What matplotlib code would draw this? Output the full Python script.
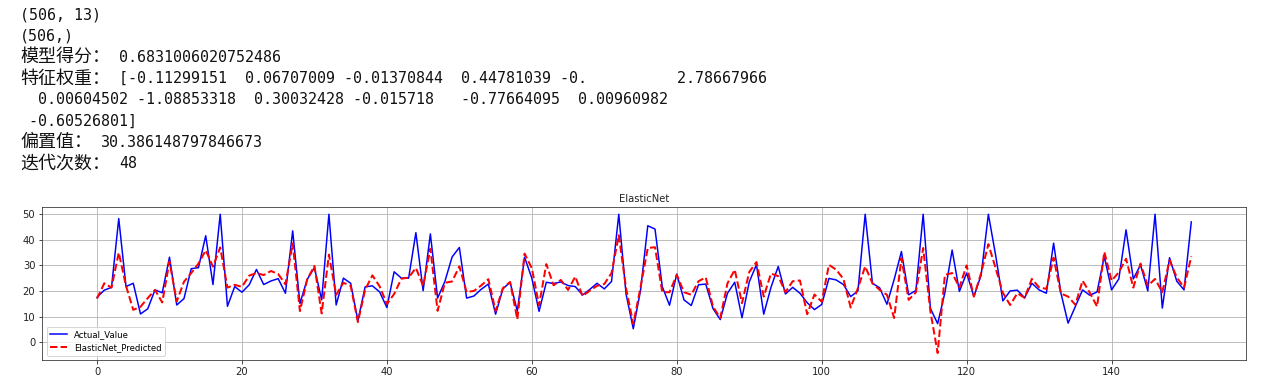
import matplotlib
matplotlib.use("Agg")
import matplotlib.pyplot as plt
import numpy as np

# ---------------- data ----------------
actual = [17.5, 20.3, 21.4, 48.3, 21.7, 23.0, 11.0, 13.0, 20.4, 19.3,
          33.2, 14.5, 17.0, 28.7, 29.1, 41.6, 22.5, 50.0, 14.0, 21.7,
          19.5, 22.4, 28.4, 22.5, 23.9, 24.8, 19.1, 43.5, 15.1, 24.5,
          29.1, 16.5, 50.0, 14.5, 25.0, 23.0, 8.4, 21.6, 22.0, 19.6,
          13.5, 27.5, 25.0, 25.0, 42.8, 20.1, 42.3, 17.2, 23.7, 33.3,
          37.0, 17.2, 18.0, 20.6, 22.7, 10.9, 20.8, 23.4, 12.1, 33.2,
          25.0, 12.0, 23.4, 22.9, 23.5, 22.1, 21.7, 18.4, 20.6, 23.0,
          20.8, 23.7, 50.0, 18.8, 5.2, 20.2, 45.5, 44.2, 21.7, 14.4,
          26.6, 16.5, 14.3, 22.4, 22.7, 13.1, 8.8, 19.1, 23.4, 9.5,
          23.5, 30.3, 10.9, 21.4, 29.6, 18.8, 21.4, 19.1, 15.4, 12.7,
          14.7, 24.9, 24.3, 22.5, 17.8, 20.0, 50.0, 23.0, 21.2, 14.8,
          24.5, 35.4, 18.5, 20.2, 50.0, 13.2, 7.2, 19.3, 36.0, 19.8,
          27.0, 17.8, 26.2, 50.0, 34.0, 16.1, 20.0, 20.3, 17.3, 23.0,
          20.4, 19.1, 38.7, 19.3, 7.4, 13.9, 20.4, 18.3, 19.6, 33.5,
          20.4, 24.7, 43.9, 24.7, 30.2, 20.0, 50.0, 13.3, 33.0, 23.8,
          20.4, 47.0]

predicted = [17.0, 23.0, 21.3, 35.0, 22.0, 12.6, 13.8, 17.2, 20.4, 15.5,
             31.5, 15.9, 23.6, 27.0, 30.7, 35.9, 29.5, 37.0, 21.3, 22.4,
             21.6, 26.0, 27.0, 26.2, 27.8, 26.6, 22.6, 38.6, 12.1, 24.5,
             29.8, 11.2, 34.2, 18.5, 23.2, 22.0, 7.8, 20.5, 26.1, 21.8,
             14.9, 18.8, 24.8, 25.2, 29.0, 22.0, 36.5, 12.2, 23.2, 23.7,
             29.6, 19.6, 20.0, 22.1, 24.6, 12.2, 21.1, 23.5, 8.9, 34.6,
             28.9, 14.4, 30.5, 22.2, 24.3, 20.4, 25.6, 18.0, 20.1, 22.0,
             22.7, 27.0, 41.8, 21.1, 7.1, 21.4, 36.8, 37.1, 19.5, 19.5,
             26.3, 19.5, 18.5, 23.8, 25.3, 13.9, 9.4, 23.0, 28.3, 15.2,
             27.4, 31.3, 17.8, 26.8, 25.8, 19.5, 23.8, 24.1, 10.9, 18.6,
             15.8, 30.2, 28.3, 24.7, 13.5, 21.1, 29.6, 23.0, 20.4, 18.5,
             9.4, 32.8, 16.5, 19.5, 36.8, 12.0, -4.3, 26.3, 27.0, 21.4,
             30.0, 17.8, 27.0, 38.3, 28.9, 19.3, 14.5, 19.1, 17.3, 24.7,
             21.4, 20.8, 33.0, 19.0, 17.8, 14.6, 24.0, 19.3, 13.9, 35.3,
             24.0, 27.3, 32.6, 21.3, 30.7, 22.0, 24.7, 19.5, 32.0, 25.3,
             21.3, 33.5]

series_labels = ["Actual_Value", "ElasticNet_Predicted"]
chart_title = "ElasticNet"

# console output lines: (chinese label, value text)
console_lines = [
    ("", "(506, 13)"),
    ("", "(506,)"),
    ("模型得分：", "0.6831006020752486"),
    ("特征权重：", "[-0.11299151  0.06707009 -0.01370844  0.44781039 -0.          2.78667966"),
    ("", "  0.00604502 -1.08853318  0.30032428 -0.015718   -0.77664095  0.00960982"),
    ("", " -0.60526801]"),
    ("偏置值：", "30.386148797846673"),
    ("迭代次数：", "48"),
]

# ---------------- figure ----------------
W, H, DPI = 1261, 383, 72
fig = plt.figure(figsize=(W / DPI, H / DPI), dpi=DPI)
fig.patch.set_facecolor("white")

x0_px = 20
char_w = 9.0
line_y0 = 14.5
line_dy = 21.3
for k, (lab, val) in enumerate(console_lines):
    y = 1 - (line_y0 + k * line_dy) / H
    if lab:
        fig.text(x0_px / W, y, lab, fontsize=18, family=["Noto Sans CJK SC", "DejaVu Sans"],
                 va="center", ha="left", color="#111111")
        vx = x0_px + char_w * 2 * len(lab) + char_w
    else:
        vx = x0_px
    fig.text(vx / W, y, val, fontsize=15, family=["DejaVu Sans Mono"],
             va="center", ha="left", color="#111111")

# axes
left, right, top, bottom = 42.3, 1246.0, 207.3, 360.0
ax = fig.add_axes([left / W, 1 - bottom / H, (right - left) / W, (bottom - top) / H])
x = np.arange(len(actual))
ax.plot(x, actual, color="blue", lw=1.5, label=series_labels[0])
ax.plot(x, predicted, color="red", ls="--", lw=2.0, label=series_labels[1])
ax.set_title(chart_title, fontsize=10, color="#222222", pad=5)
ax.grid(True, color="#b0b0b0", lw=0.8)
ax.set_xticks([0, 20, 40, 60, 80, 100, 120, 140])
ax.set_yticks([0, 10, 20, 30, 40, 50])
ax.tick_params(labelsize=10, colors="#222222")
for s in ax.spines.values():
    s.set_color("#333333")
ax.legend(loc="lower left", fontsize=8.5)

fig.savefig("out.png", dpi=DPI)
